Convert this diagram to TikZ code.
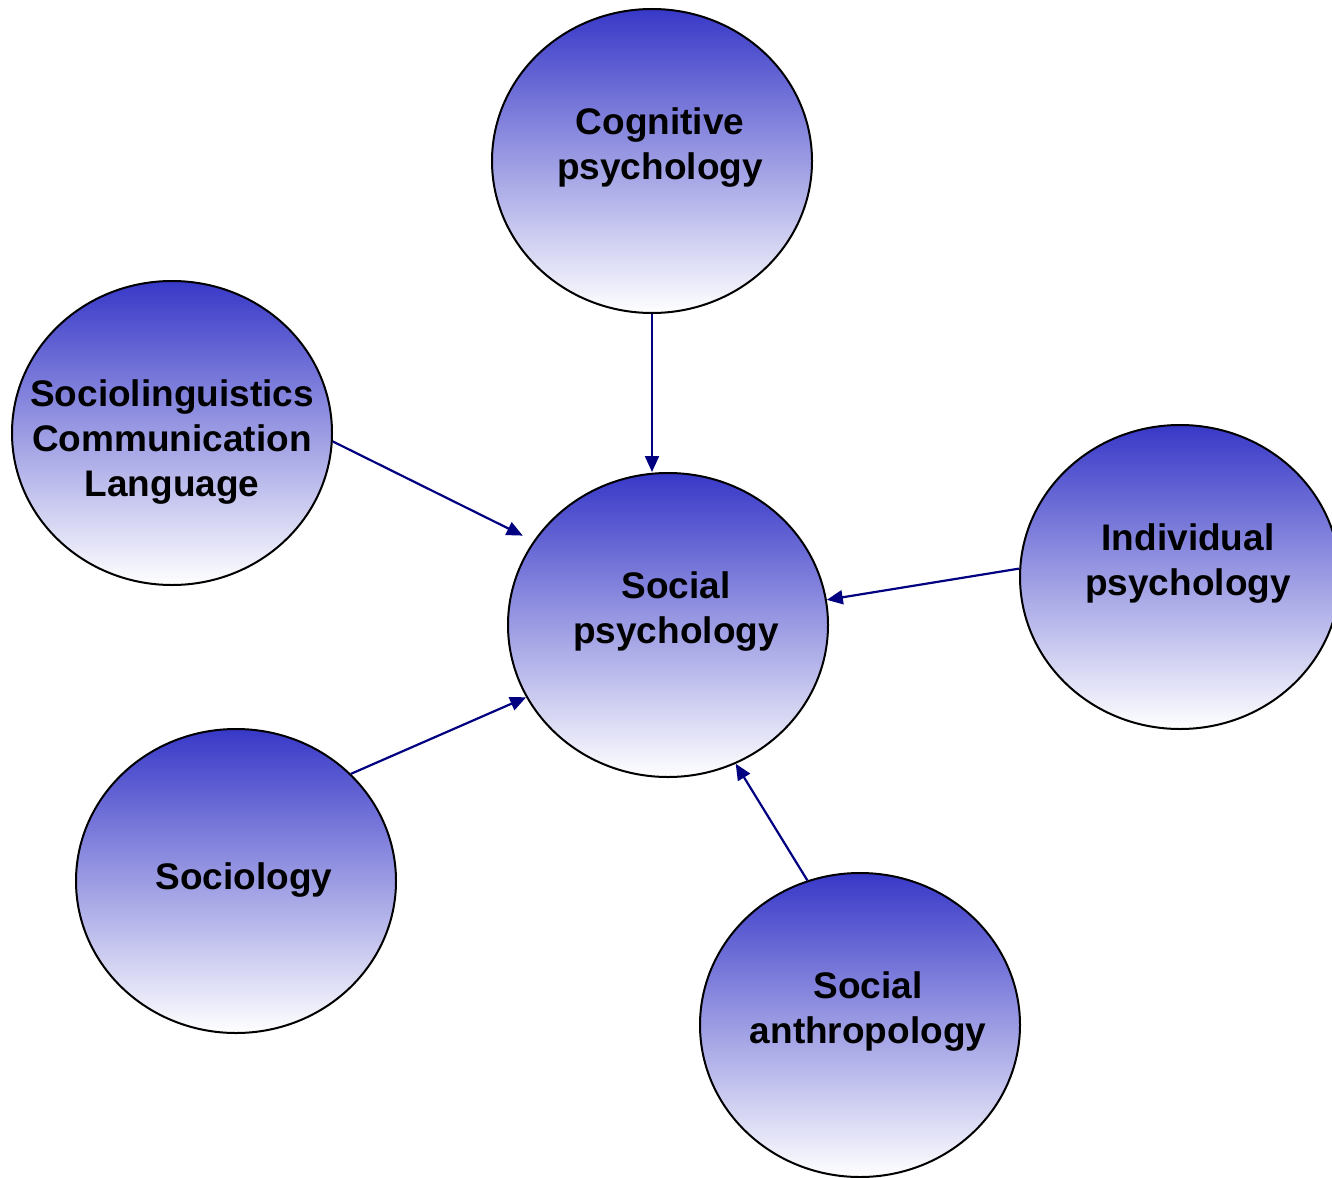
\documentclass[tikz,border=0pt]{standalone}
\usepackage{fontspec}
\setmainfont{Liberation Sans}
\usetikzlibrary{shapes.geometric,arrows.meta}
\definecolor{discblue}{RGB}{56,56,200}
\definecolor{linknavy}{RGB}{0,0,128}
\tikzset{
  disc/.style={ellipse, draw=black, line width=2pt, minimum width=320pt, minimum height=304pt, inner sep=0pt, top color=discblue, bottom color=white},
  caption/.style={anchor=north, inner sep=0pt, align=center, font=\fontsize{37}{45}\selectfont\bfseries},
  link/.style={draw=linknavy, line width=2.2pt, -{Triangle[length=16pt,width=14pt]}}
}
\begin{document}
\begin{tikzpicture}[x=1pt, y=-1pt]
\useasboundingbox (0,0) rectangle (1332,1177);
\node (cog) at (652,161) [disc] {};
\node (lin) at (172,433) [disc] {};
\node (soc) at (668,625) [disc] {};
\node (ind) at (1180,577) [disc] {};
\node (sgy) at (236,881) [disc] {};
\node (ant) at (860,1025) [disc] {};
\node (cogtext) at ([shift={(8,-54)}]cog.center) [caption] {Cognitive\\psychology};
\node (lintext) at ([shift={(0,-54)}]lin.center) [caption] {Sociolinguistics\\Communication\\Language};
\node (soctext) at ([shift={(8,-54)}]soc.center) [caption] {Social\\psychology};
\node (indtext) at ([shift={(8,-54)}]ind.center) [caption] {Individual\\psychology};
\node (sgytext) at ([shift={(8,-19)}]sgy.center) [caption] {Sociology};
\node (anttext) at ([shift={(8,-54)}]ant.center) [caption] {Social\\anthropology};
\draw [link] (cog.south) -- (cog.south |- soc.north);
\draw [link, shorten >=12pt] (lin.-3) -- (soc.148);
\draw [link] (ind.177) -- (soc.9);
\draw [link] (sgy.43) -- (soc.207);
\draw [link] (ant.110) -- (soc.-64);
\end{tikzpicture}
\end{document}
